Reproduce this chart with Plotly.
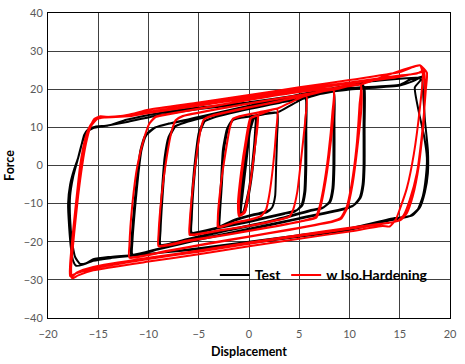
import plotly.graph_objects as go

# ---------------- Test (black) loops: displacement / force ----------------
test_loop1_x = [0.7, 0.5, 0.0, -0.6, -1.0, -0.9, -0.5, 0.0, 0.3, 0.7,
                0.5, 0.1, -0.5, -0.9, -0.8, -0.4, 0.1, 0.4, 0.8,
                0.6, 0.1, -0.4, -0.8, -0.7, -0.3, 0.1, 0.5, 0.8]
test_loop1_y = [12.8, 5.0, -6.0, -12.3, -13.0, -9.0, 0.0, 9.0, 12.2, 12.8,
                5.0, -6.0, -12.0, -12.8, -9.0, 0.0, 9.0, 12.3, 13.0,
                5.0, -6.0, -12.0, -12.6, -9.0, 0.0, 9.0, 12.4, 13.1]

test_loop2_x = [2.8, 2.8, 2.7, 2.6, 2.3, 1.8, 0.5, -1.5, -3.0, -3.0, -2.8, -2.6, -2.2, -1.7, -0.8, 1.0, 2.8,
                2.8, 2.7, 2.6, 2.3, 1.8, 0.5, -1.5, -2.9, -2.9, -2.7, -2.5, -2.1, -1.6, -0.7, 1.0, 2.9]
test_loop2_y = [13.8, 8.0, 0.0, -8.0, -11.0, -12.2, -13.0, -14.5, -16.0, -13.0, -5.0, 4.0, 9.5, 11.8, 12.5, 13.2, 13.8,
                8.0, 0.0, -8.0, -11.0, -12.0, -12.8, -14.3, -15.8, -13.0, -5.0, 4.0, 9.5, 11.9, 12.6, 13.3, 14.0]

test_loop3_x = [5.6, 5.6, 5.6, 5.5, 5.2, 4.6, 3.5, 0.0, -3.0, -5.8, -5.8, -5.6, -5.3, -5.0, -4.5, -3.6, 0.0, 3.0, 5.6,
                5.7, 5.7, 5.6, 5.3, 4.7, 3.5, 0.0, -3.0, -5.7, -5.7, -5.5, -5.2, -4.9, -4.4, -3.5, 0.0, 3.0, 5.7]
test_loop3_y = [17.6, 10.0, 0.0, -7.0, -10.5, -12.0, -12.7, -14.8, -16.4, -17.8, -14.0, -5.0, 3.0, 8.5, 11.5, 12.5, 14.8, 16.4, 17.6,
                10.0, 0.0, -7.0, -10.5, -11.8, -12.5, -14.6, -16.2, -17.6, -14.0, -5.0, 3.0, 8.5, 11.6, 12.6, 14.9, 16.5, 17.7]

test_loop4_x = [8.4, 8.4, 8.4, 8.3, 8.0, 7.3, 6.0, 2.0, -2.0, -6.0, -8.9, -8.9, -8.7, -8.4, -8.0, -7.4, -6.3, -3.0, 2.0, 6.0, 8.4,
                8.5, 8.5, 8.4, 8.1, 7.4, 6.0, 2.0, -2.0, -6.0, -8.8, -8.8, -8.6, -8.3, -7.9, -7.3, -6.2, -3.0, 2.0, 6.0, 8.5]
test_loop4_y = [19.4, 12.0, 0.0, -6.0, -9.5, -11.2, -12.0, -14.8, -17.0, -19.4, -21.0, -17.0, -8.0, 2.0, 7.5, 10.2, 11.3, 13.5, 16.2, 18.2, 19.4,
                12.0, 0.0, -6.0, -9.5, -11.0, -11.8, -14.6, -16.8, -19.2, -20.8, -17.0, -8.0, 2.0, 7.5, 10.3, 11.4, 13.6, 16.3, 18.3, 19.5]

test_loop5_x = [11.2, 11.4, 11.4, 11.4, 11.3, 11.0, 10.4, 9.5, 5.0, 0.0, -5.0, -9.0, -11.7, -11.7, -11.4, -11.1, -10.8, -10.3, -9.4, -8.2, -5.0, 0.0, 5.0, 9.0, 10.6, 11.2,
                11.5, 11.5, 11.5, 11.4, 11.1, 10.5, 9.5, 5.0, 0.0, -5.0, -9.0, -11.6, -11.6, -11.3, -11.0, -10.7, -10.2, -9.3, -8.0, -5.0, 0.0, 5.0, 9.0, 10.8, 11.3]
test_loop5_y = [21.7, 20.0, 10.0, 0.0, -5.0, -8.5, -10.5, -11.5, -14.0, -16.8, -19.5, -22.0, -23.5, -20.0, -10.0, -2.0, 4.0, 8.0, 9.9, 10.8, 12.5, 15.5, 18.5, 20.5, 21.2, 21.7,
                20.0, 10.0, 0.0, -5.0, -8.5, -10.3, -11.3, -13.8, -16.6, -19.3, -21.8, -23.3, -20.0, -10.0, -2.0, 4.0, 8.0, 10.0, 11.0, 12.7, 15.7, 18.6, 20.6, 21.3, 21.8]

test_loop6_x = [16.8, 17.1, 16.5, 16.9, 17.4, 17.7, 17.6, 17.3, 16.8, 16.0, 15.2, 14.2, 10.0, 5.0, 0.0, -5.0, -8.9, -11.6, -13.8, -15.5, -16.5, -17.2,
                -17.5, -17.7, -17.9, -18.0, -17.8, -17.4, -17.0, -16.7, -16.4, -16.0, -15.3, -14.0, -12.2, -8.9, -5.0, 0.0, 5.0, 10.0, 15.0, 16.0, 16.8,
                17.2, 17.3, 17.5, 17.8, 17.8, 17.5, 17.0, 16.3, 15.5, 14.5, 10.0, 5.0, 0.0, -5.0, -10.0, -14.0, -15.5, -16.2, -16.8,
                -17.3, -17.6, -17.8, -17.8, -17.5, -17.1, -16.6, -16.1, -15.5, -14.5, -12.0, -9.0, -5.0, 0.0, 5.0, 10.0, 15.0, 16.2, 17.2]
test_loop6_y = [23.0, 22.5, 20.5, 14.0, 8.0, 2.0, -3.0, -8.0, -11.5, -13.3, -13.8, -14.3, -16.9, -18.7, -20.4, -22.0, -22.9, -23.7, -24.3, -25.0, -26.0, -26.3,
                -25.0, -22.0, -16.0, -10.0, -5.0, -1.0, 2.0, 5.0, 8.0, 9.5, 10.2, 10.5, 12.0, 13.8, 15.2, 16.6, 18.5, 20.3, 21.2, 22.5, 23.0,
                23.3, 20.0, 12.0, 4.0, -2.0, -7.0, -11.0, -13.0, -13.5, -13.8, -16.5, -18.3, -20.0, -21.7, -23.2, -24.0, -24.6, -25.6, -25.8,
                -24.0, -20.0, -14.0, -8.0, -3.0, 1.0, 6.0, 8.8, 9.8, 10.3, 11.5, 13.2, 14.8, 16.3, 18.2, 19.9, 21.0, 22.0, 23.3]

# ------------- Simulation with isotropic hardening (red) loops -------------
iso_loop1_x = [0.9, 0.6, 0.1, -0.4, -1.0, -1.1, -0.8, -0.3, 0.1, 0.5, 0.9,
               0.6, 0.1, -0.4, -0.9, -1.0, -0.7, -0.2, 0.2, 0.5, 0.9,
               0.6, 0.1, -0.5, -1.0, -1.0, -0.7, -0.2, 0.2, 0.6, 1.0]
iso_loop1_y = [13.0, 5.0, -5.0, -12.3, -13.3, -10.0, -2.0, 7.0, 12.3, 12.8, 13.0,
               5.0, -5.0, -12.0, -13.0, -10.0, -2.0, 7.0, 12.4, 12.9, 13.2,
               5.0, -5.0, -12.2, -13.2, -10.0, -2.0, 7.0, 12.5, 12.9, 13.3]

iso_loop2_x = [2.8, 2.7, 2.4, 2.0, 1.7, 1.2, 0.3, -1.5, -3.0, -3.1, -2.8, -2.3, -1.9, -1.6, -1.0, 1.0, 2.8,
               2.7, 2.4, 2.0, 1.7, 1.2, 0.3, -1.5, -3.1, -3.1, -2.8, -2.3, -1.9, -1.6, -1.0, 1.0, 2.9]
iso_loop2_y = [14.8, 9.0, 0.0, -8.0, -11.5, -13.2, -14.0, -15.0, -16.0, -14.0, -5.0, 4.0, 10.0, 12.2, 12.8, 13.9, 14.8,
               9.0, 0.0, -8.0, -11.6, -13.3, -14.1, -15.1, -16.2, -14.0, -5.0, 4.0, 10.0, 12.3, 12.9, 14.0, 15.0]

iso_loop3_x = [5.7, 5.6, 5.2, 4.8, 4.4, 4.0, 2.8, 0.0, -3.0, -5.9, -5.9, -5.6, -5.2, -4.8, -4.5, -3.8, 0.0, 3.0, 5.7,
               5.6, 5.2, 4.8, 4.4, 4.0, 2.8, 0.0, -3.0, -5.9, -5.9, -5.6, -5.2, -4.8, -4.5, -3.8, 0.0, 3.0, 5.8]
iso_loop3_y = [18.2, 12.0, 2.0, -7.0, -11.5, -13.4, -14.3, -15.8, -17.0, -18.0, -15.0, -6.0, 3.0, 9.5, 12.0, 12.9, 15.2, 16.8, 18.2,
               12.0, 2.0, -7.0, -11.5, -13.5, -14.4, -15.9, -17.1, -18.2, -15.0, -6.0, 3.0, 9.5, 12.1, 13.0, 15.3, 16.9, 18.4]

iso_loop4_x = [8.4, 8.3, 7.9, 7.4, 7.0, 6.6, 5.5, 2.0, -2.0, -6.0, -9.0, -9.0, -8.7, -8.2, -7.7, -7.3, -6.6, -3.0, 2.0, 6.0, 8.4,
               8.4, 8.0, 7.5, 7.1, 6.7, 5.5, 2.0, -2.0, -6.0, -9.0, -9.0, -8.7, -8.2, -7.7, -7.3, -6.6, -3.0, 2.0, 6.0, 8.5]
iso_loop4_y = [19.8, 14.0, 3.0, -6.0, -11.0, -13.6, -14.4, -16.2, -18.0, -19.6, -21.0, -18.0, -8.0, 2.0, 9.0, 11.8, 12.9, 14.8, 17.1, 18.8, 19.8,
               14.0, 3.0, -6.0, -11.0, -13.7, -14.5, -16.3, -18.1, -19.8, -21.2, -18.0, -8.0, 2.0, 9.0, 11.9, 13.0, 14.9, 17.2, 18.9, 19.9]

iso_loop5_x = [11.1, 11.0, 10.7, 10.2, 9.7, 9.1, 8.3, 4.0, 0.0, -4.0, -8.0, -11.9, -11.9, -11.6, -11.1, -10.4, -9.9, -9.3, -8.5, -4.0, 0.0, 4.0, 8.0, 11.1,
               11.2, 10.8, 10.3, 9.8, 9.2, 8.4, 4.0, 0.0, -4.0, -8.0, -11.9, -11.9, -11.6, -11.1, -10.4, -9.9, -9.3, -8.5, -4.0, 0.0, 4.0, 8.0, 11.2]
iso_loop5_y = [21.2, 16.0, 5.0, -5.0, -11.0, -13.8, -14.6, -16.8, -18.6, -20.4, -22.3, -24.0, -21.0, -10.0, 0.0, 7.5, 11.0, 12.7, 13.2, 15.3, 17.2, 18.9, 20.1, 21.2,
               16.0, 5.0, -5.0, -11.0, -13.9, -14.7, -16.9, -18.7, -20.5, -22.4, -24.2, -21.0, -10.0, 0.0, 7.5, 11.1, 12.8, 13.3, 15.4, 17.3, 19.0, 20.2, 21.3]

iso_loop6_x = [17.0, 17.3, 17.0, 16.4, 15.7, 15.0, 14.6, 14.0, 13.3, 10.0, 5.0, 0.0, -5.0, -10.0, -15.5, -17.0, -17.6,
               -17.7, -17.4, -17.0, -16.6, -16.2, -15.8, -15.4, -14.8, -13.8, -12.0, -10.0, -5.0, 0.0, 5.0, 10.0, 15.0, 16.3, 17.0,
               17.7, 17.6, 17.2, 16.7, 16.0, 15.4, 14.8, 14.0, 10.0, 5.0, 0.0, -5.0, -10.0, -15.5, -17.2, -17.8,
               -17.8, -17.5, -17.1, -16.8, -16.3, -15.8, -15.2, -14.5, -12.0, -10.0, -5.0, 0.0, 5.0, 10.0, 15.0, 16.7, 17.4,
               17.5, 17.4, 16.9, 16.3, 15.7, 15.1, 14.4, 10.0, 5.0, 0.0, -5.0, -10.0, -15.5, -17.1, -17.7,
               -17.7, -17.4, -17.0, -16.7, -16.2, -15.7, -15.1, -14.4, -12.0, -10.0, -5.0, 0.0, 5.0, 10.0, 15.0, 16.8, 17.6]
iso_loop6_y = [26.3, 24.0, 15.0, 3.0, -6.0, -11.5, -14.2, -16.0, -15.9, -17.3, -19.2, -21.2, -23.3, -25.2, -27.5, -28.8, -29.6,
               -27.0, -18.0, -8.0, 0.0, 6.0, 10.0, 12.2, 12.9, 12.7, 13.3, 14.6, 16.5, 18.5, 20.5, 22.4, 24.5, 25.8, 26.3,
               24.4, 20.0, 8.0, -2.0, -9.0, -13.0, -14.5, -15.0, -16.6, -18.5, -20.5, -22.6, -24.5, -27.0, -28.3, -29.0,
               -26.0, -17.0, -7.0, 0.0, 7.0, 10.5, 12.3, 12.7, 13.1, 14.1, 16.0, 18.0, 20.0, 21.8, 23.6, 24.1, 25.0,
               22.0, 12.0, 0.0, -8.0, -12.5, -14.3, -14.8, -16.3, -18.2, -20.2, -22.3, -24.2, -26.6, -28.0, -29.3,
               -26.0, -17.0, -7.0, 0.0, 7.0, 10.4, 12.2, 12.6, 12.9, 13.8, 15.7, 17.7, 19.7, 21.5, 23.3, 24.3, 24.8]

# axis ticks
x_ticks = [-20, -15, -10, -5, 0, 5, 10, 15, 20]
y_ticks = [-40, -30, -20, -10, 0, 10, 20, 30, 40]

test_x = test_loop1_x + test_loop2_x + test_loop3_x + test_loop4_x + test_loop5_x + test_loop6_x
test_y = test_loop1_y + test_loop2_y + test_loop3_y + test_loop4_y + test_loop5_y + test_loop6_y
iso_x = iso_loop1_x + iso_loop2_x + iso_loop3_x + iso_loop4_x + iso_loop5_x + iso_loop6_x
iso_y = iso_loop1_y + iso_loop2_y + iso_loop3_y + iso_loop4_y + iso_loop5_y + iso_loop6_y

fig = go.Figure()
fig.add_trace(go.Scatter(x=test_x, y=test_y, mode="lines", name="<b>Test</b>",
                         line=dict(color="#000000", width=2, shape="spline", smoothing=0.5)))
fig.add_trace(go.Scatter(x=iso_x, y=iso_y, mode="lines", name="<b>w Iso.Hardening</b>",
                         line=dict(color="#FF0000", width=2, shape="spline", smoothing=0.5)))

axis_common = dict(showline=True, mirror=True, linecolor="#000000", linewidth=1,
                   showgrid=True, gridcolor="#404040", gridwidth=1, zeroline=False,
                   automargin=False, ticks="",
                   tickfont=dict(family="Lato, Liberation Sans, sans-serif", size=11, color="#595959"))

fig.update_layout(
    width=465, height=364,
    margin=dict(l=48, r=15, t=13, b=46),
    paper_bgcolor="white", plot_bgcolor="white",
    font=dict(family="Lato, Liberation Sans, sans-serif", color="#000000"),
    xaxis=dict(range=[-20, 20], tickvals=x_ticks, ticklabelstandoff=6,
               title=dict(text="<b>Displacement</b>", font=dict(size=12.5, color="#000000"), standoff=8),
               **axis_common),
    yaxis=dict(range=[-40, 40], tickvals=y_ticks, ticklabelstandoff=2,
               title=dict(text="<b>Force</b>", font=dict(size=12.5, color="#000000"), standoff=6),
               **axis_common),
    legend=dict(orientation="h", x=0.415, y=0.14, xanchor="left", yanchor="middle",
                bgcolor="rgba(0,0,0,0)", font=dict(size=14, color="#000000"),
                itemwidth=30, tracegroupgap=0),
    showlegend=True,
)

fig.write_html("out.html",
               config={"displayModeBar": False},
               post_script="document.body.style.margin='0';document.body.style.overflow='hidden';")
